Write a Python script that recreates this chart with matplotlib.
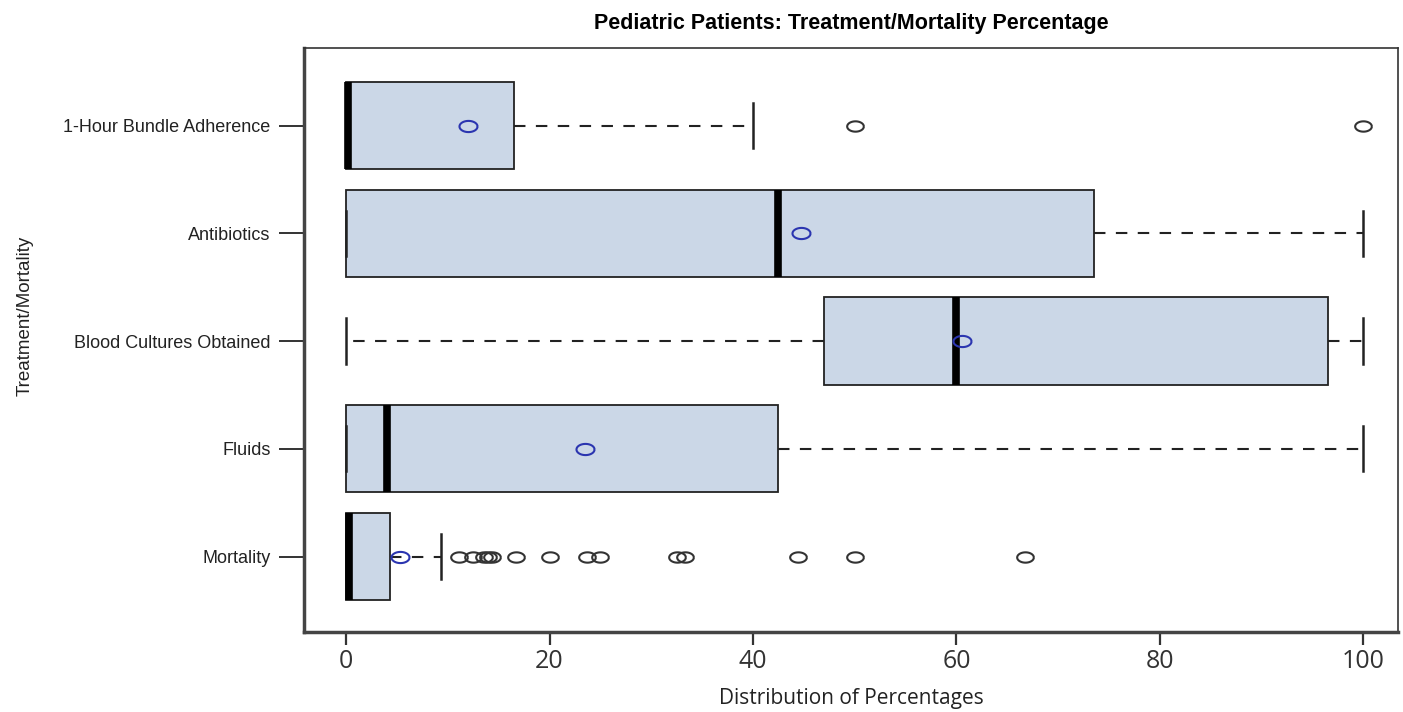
import matplotlib
matplotlib.use("Agg")
import matplotlib.pyplot as plt
import numpy as np
from matplotlib.path import Path

categories = ["Mortality", "Fluids", "Blood Cultures Obtained", "Antibiotics", "1-Hour Bundle Adherence"]
q1 = [0, 0, 47, 0, 0]
medians = [0.3, 4, 60, 42.5, 0.2]
q3 = [4.3, 42.5, 96.5, 73.5, 16.5]
whisker_lo = [0, 0, 0, 0, 0]
whisker_hi = [9.3, 100, 100, 100, 40]
means = [5.3, 23.5, 60.5, 44.7, 12]
fliers = [
    [11.1, 12.5, 13.6, 14.0, 14.3, 16.7, 20.0, 23.7, 25.0, 32.5, 33.3, 44.4, 50.0, 66.7],
    [],
    [],
    [],
    [50, 100],
]
x_ticks = [0, 20, 40, 60, 80, 100]

title = "Pediatric Patients: Treatment/Mortality Percentage"
xlabel = "Distribution of Percentages"
ylabel = "Treatment/Mortality"

# elliptical open marker
t = np.linspace(0, 2 * np.pi, 40)
ellipse = Path(np.column_stack([np.cos(t), 0.62 * np.sin(t)]))

fig = plt.figure(figsize=(14.03, 7.12), dpi=100)
ax = fig.add_axes([0.2167, 0.1124, 0.7797, 0.8202])

stats = []
for i in range(len(categories)):
    stats.append(dict(label=categories[i], q1=q1[i], med=medians[i], q3=q3[i],
                      whislo=whisker_lo[i], whishi=whisker_hi[i], mean=means[i],
                      fliers=np.array(fliers[i])))

positions = np.arange(1, len(categories) + 1)
ax.bxp(stats, positions=positions, vert=False, widths=0.81, capwidths=0.42,
       showmeans=True, patch_artist=True,
       boxprops=dict(facecolor="#cbd7e7", edgecolor="#222222", linewidth=1.3),
       medianprops=dict(color="black", linewidth=5.5, solid_capstyle="butt"),
       whiskerprops=dict(color="#222222", linewidth=1.5, linestyle=(0, (5.5, 5))),
       capprops=dict(color="#222222", linewidth=1.8),
       flierprops=dict(marker=ellipse, markersize=12, markerfacecolor="none",
                       markeredgecolor="#333333", markeredgewidth=1.5),
       meanprops=dict(marker=ellipse, markersize=13, markerfacecolor="none",
                      markeredgecolor="#2b35b0", markeredgewidth=1.5))

ax.set_xlim(-4.13, 103.4)
ax.set_ylim(0.3, 5.72)
ax.set_xticks(x_ticks)
ax.set_xticklabels([str(v) for v in x_ticks], family="Open Sans", fontsize=18, color="#333333")
ax.set_yticks(positions)
ax.set_yticklabels(categories, family="Liberation Sans", fontsize=13, color="#222222")
ax.tick_params(axis="y", length=18, width=1.4, pad=6, color="#333333")
ax.tick_params(axis="x", length=9, width=1.6, pad=3, color="#333333")

for side in ["top", "right"]:
    ax.spines[side].set_linewidth(1.2)
    ax.spines[side].set_color("#333333")
for side in ["left", "bottom"]:
    ax.spines[side].set_linewidth(2.5)
    ax.spines[side].set_color("#444444")

ax.set_title(title, family=["Liberation Sans Narrow", "Liberation Sans"], fontweight="bold",
             fontsize=15.5, pad=14)
ax.set_xlabel(xlabel, family="Open Sans", fontsize=15, labelpad=10, color="#222222")
fig.text(0.012, 0.556, ylabel, rotation=90, va="center", ha="left",
         family="Liberation Sans", fontsize=13.5, color="#222222")

fig.savefig("out.png", dpi=100)
